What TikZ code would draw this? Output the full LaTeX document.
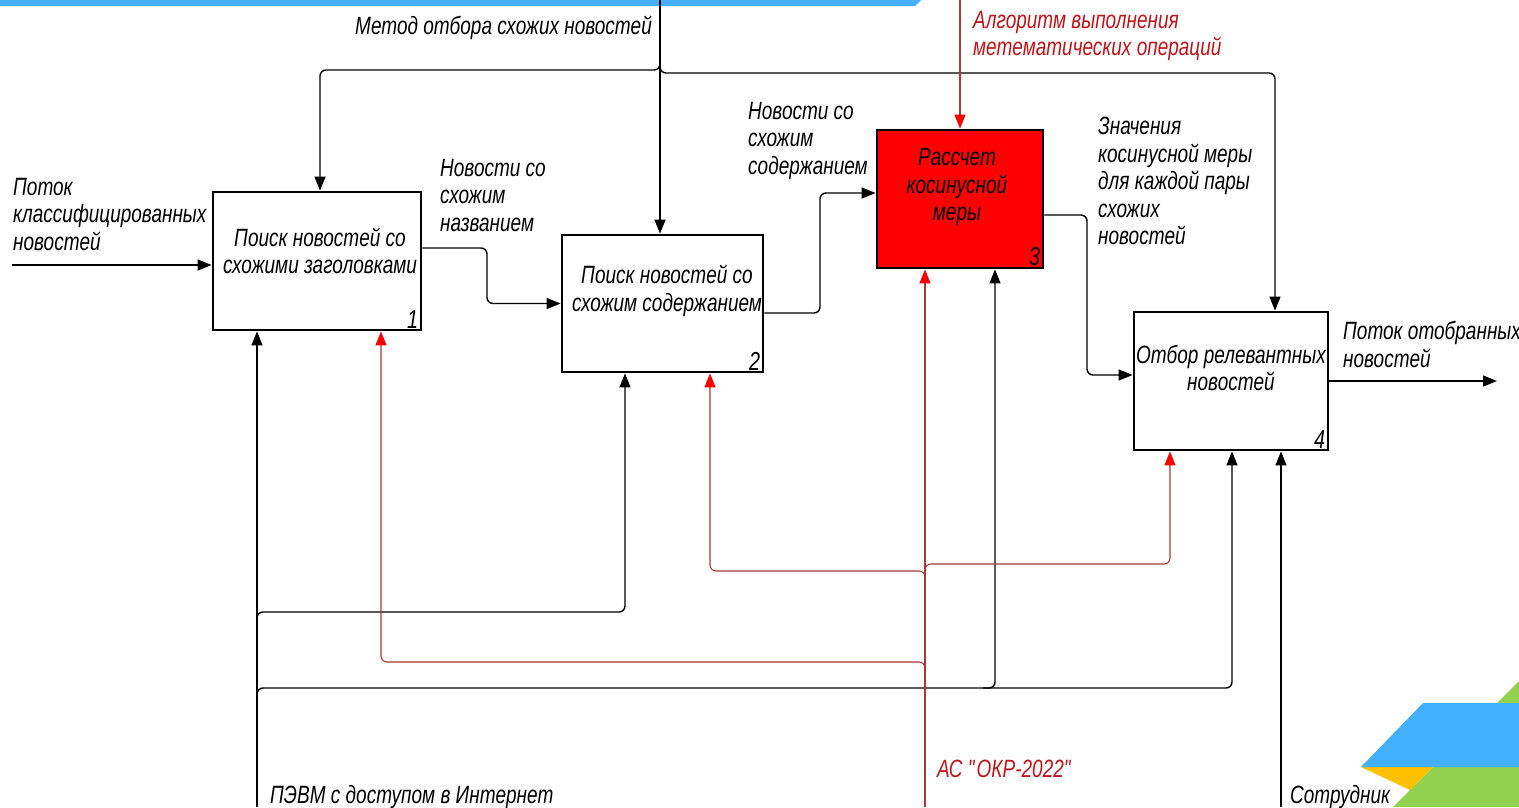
\documentclass[tikz,border=0pt]{standalone}
\usepackage{fontspec}
\setmainfont{Liberation Sans}[FakeStretch=0.76]
\usetikzlibrary{arrows.meta,calc}
\definecolor{barblue}{HTML}{42AFFF}
\definecolor{dgreen}{HTML}{92D050}
\definecolor{dyellow}{HTML}{FFC000}
\definecolor{linkred}{HTML}{A83838}
\definecolor{tipred}{HTML}{FF0000}
\definecolor{boxred}{HTML}{FF0000}
\definecolor{txtred}{HTML}{C0141C}
\newcommand\straightdq{\XeTeXglyph\XeTeXcharglyph"22\relax}
\tikzset{
  fn/.style={draw=black, line width=2.8pt, inner sep=0pt},
  lbl/.style={font=\itshape\fontsize{25}{27.5}\selectfont, inner sep=0pt, align=left, anchor=north west},
  btxt/.style={font=\itshape\fontsize{25}{27.5}\selectfont, inner sep=0pt, align=center, anchor=center},
  num/.style={font=\itshape\fontsize{26}{28}\selectfont, inner sep=0pt, anchor=south east},
  conn/.style={draw=black, line width=1.4pt, rounded corners=6pt},
  arr/.style={-{Triangle[length=14pt,width=11pt]}},
  rconn/.style={draw=linkred, line width=1.1pt, rounded corners=6pt},
  rarr/.style={-{Triangle[length=14pt,width=11pt,color=tipred]}},
}
\begin{document}
\begin{tikzpicture}[x=1pt,y=-1pt]
\useasboundingbox (0,0) rectangle (1519,807);
% decorations
\fill[barblue] (0,0) -- (921,0) -- (915,6) -- (0,6) -- cycle;
\fill[dgreen] (1519,681) -- (1393,807) -- (1519,807) -- cycle;
\fill[dyellow] (1361,767) -- (1433,767) -- (1410,790) -- cycle;
\fill[barblue] (1423,703) -- (1519,703) -- (1519,767) -- (1361,767) -- cycle;

% boxes
\node[fn, minimum width=208pt, minimum height=138pt] (b1) at (317,261) {};
\node[fn, minimum width=201pt, minimum height=137pt] (b2) at (662.5,303.5) {};
\node[fn, fill=boxred, minimum width=166pt, minimum height=138pt] (b3) at (960,199) {};
\node[fn, minimum width=194pt, minimum height=138pt] (b4) at (1231,381) {};

\node[btxt] (t1) at (320,251) {Поиск новостей со\\схожими заголовками};
\node[btxt] (t2) at (667,291) {Поиск новостей со\\схожим содержанием};
\node[btxt] (t3) at (957,187) {Рассчет\\косинусной\\меры};
\node[btxt] (t4) at (1231,368) {Отбор релевантных\\новостей};

\node[num] (n1) at ([xshift=-4pt,yshift=3pt]b1.south east) {1};
\node[num] (n2) at ([xshift=-4pt,yshift=3pt]b2.south east) {2};
\node[num] (n3) at ([xshift=-4pt,yshift=3pt]b3.south east) {3};
\node[num] (n4) at ([xshift=-4pt,yshift=3pt]b4.south east) {4};

% coordinates of free ends
\coordinate (in1) at (12,265);
\coordinate (out4) at (1497,381);
\coordinate (m0) at (660,0);
\coordinate (mj) at (660,62);
\coordinate (mL) at (320,70);
\coordinate (mk) at (660,64);
\coordinate (mR) at (1275,73);
\coordinate (a0) at (960,0);
\coordinate (p0) at (257,807);
\coordinate (pj2) at (257,622);
\coordinate (pB2) at (625,612);
\coordinate (pj4) at (257,698);
\coordinate (pB4) at (1232,688);
\coordinate (pB3) at (995,688);
\coordinate (r0) at (925,807);
\coordinate (rj1) at (925,672);
\coordinate (rB1) at (381,662);
\coordinate (rj2) at (925,580);
\coordinate (rB2) at (710,571);
\coordinate (rj4) at (925,572);
\coordinate (rB4) at (1170,564);
\coordinate (s0) at (1281,807);

% inputs / outputs
\draw[conn,arr] (in1) -- (in1 -| b1.west);
\draw[conn,arr] ([yshift=13pt]b1.east) -| (487,280) |- (b2.west);
\draw[conn,arr] ([yshift=-9.5pt]b2.east) -| (820,250) |- ([yshift=6pt]b3.west);
\draw[conn,arr] ([yshift=-16pt]b3.east) -| (1087,300) |- ([yshift=6pt]b4.west);
\draw[conn,arr] (b4.east |- out4) -- (out4);

% controls
\draw[conn,arr] (m0) -- (m0 |- b2.north);
\draw[conn,arr] (mj) |- (mL) -- (mL |- b1.north);
\draw[conn,arr] (mk) |- (mR) -- (mR |- b4.north);
\draw[rconn,rarr] (a0) -- (a0 |- b3.north);

% mechanisms
\draw[conn,arr] (p0) -- (p0 |- b1.south);
\draw[conn,arr] (pj2) |- (pB2) -- (pB2 |- b2.south);
\draw[conn,arr] (pj4) |- (pB4) -- (pB4 |- b4.south);
\draw[conn,arr] ([xshift=-12pt]pB3) -| (pB3 |- b3.south);
\draw[rconn,rarr] (r0) -- (r0 |- b3.south);
\draw[rconn,rarr] (rj1) |- (rB1) -- (rB1 |- b1.south);
\draw[rconn,rarr] (rj2) |- (rB2) -- (rB2 |- b2.south);
\draw[rconn,rarr] (rj4) |- (rB4) -- (rB4 |- b4.south);
\draw[conn,arr] (s0) -- (s0 |- b4.south);

% labels
\node[lbl] (l1) at (13,178) {Поток\\классифицированных\\новостей};
\node[lbl] (l2) at (440,159) {Новости со\\схожим\\названием};
\node[lbl] (l3) at (748,102) {Новости со\\схожим\\содержанием};
\node[lbl] (l4) at (1098,117) {Значения\\косинусной меры\\для каждой пары\\схожих\\новостей};
\node[lbl] (l5) at (1343,321) {Поток отобранных\\новостей};
\node[lbl] (l6) at (355,16) {Метод отбора схожих новостей};
\node[lbl, text=txtred] (l7) at (973,11) {Алгоритм выполнения\\метематических операций};
\node[lbl] (l8) at (270,785) {ПЭВМ с доступом в Интернет};
\node[lbl, text=txtred] (l9) at (937,760) {АС \straightdq ОКР-2022\straightdq};
\node[lbl] (l10) at (1290,785) {Сотрудник};
\end{tikzpicture}
\end{document}
